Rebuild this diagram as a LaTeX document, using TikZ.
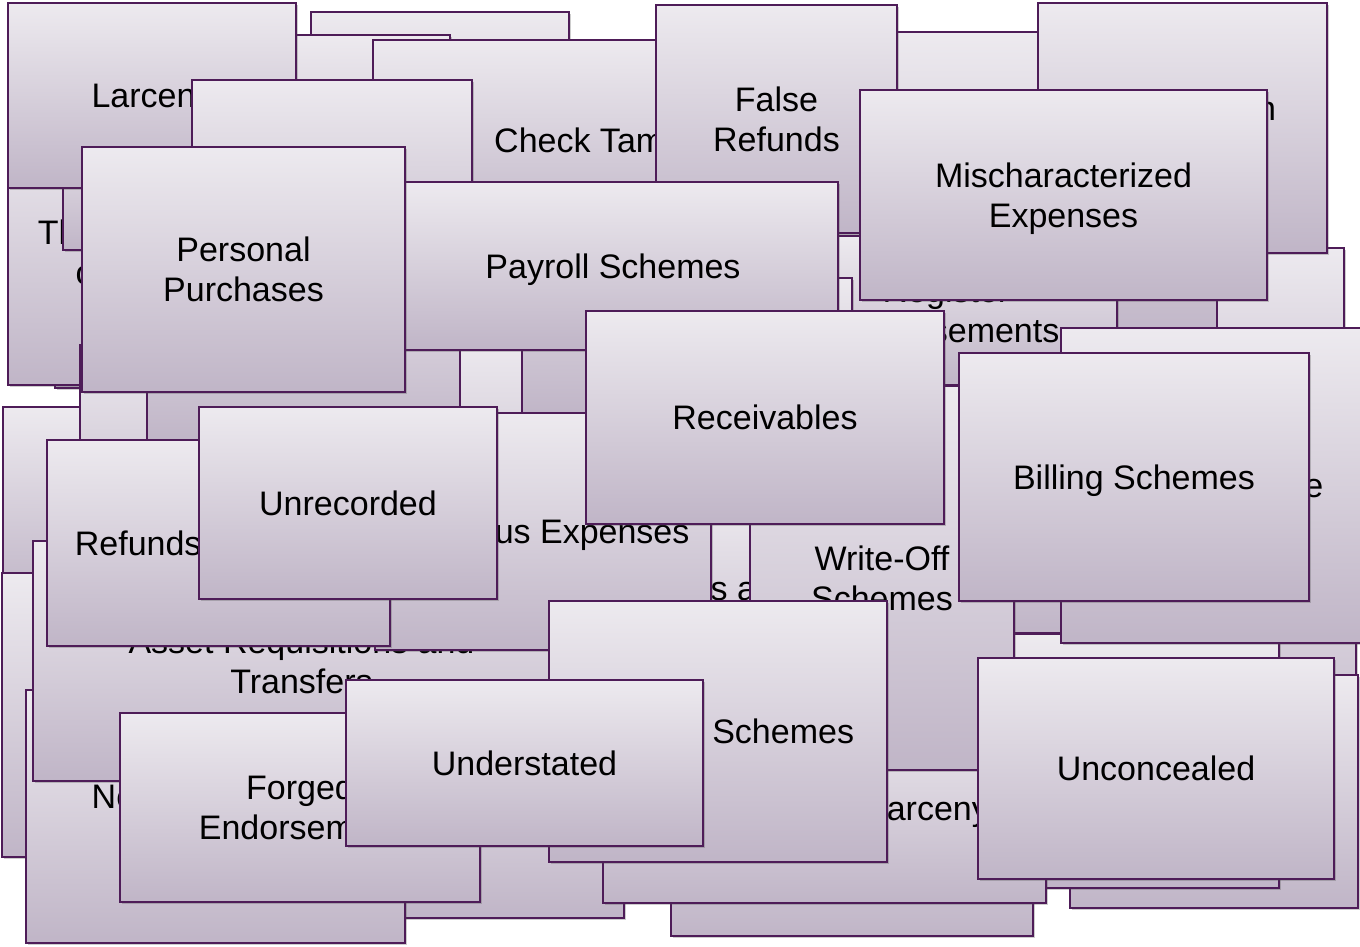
\documentclass[tikz,border=0pt]{standalone}
\usepackage{fontspec}
\setmainfont{Liberation Sans}
\usetikzlibrary{shadows}
\definecolor{cardtop}{RGB}{237,234,239}
\definecolor{cardbot}{RGB}{192,181,199}
\definecolor{cardline}{RGB}{78,28,88}
\newcommand\cardtxt[1]{\rule{0pt}{32.2pt}#1\rule[-7.8pt]{0pt}{7.8pt}}
\tikzset{
  card/.style={draw=cardline, line width=1.8pt, top color=cardtop, bottom color=cardbot,
    inner sep=0pt, align=center, font=\fontsize{34}{40}\selectfont, text=black,
    drop shadow={shadow xshift=1.6pt, shadow yshift=-2pt, opacity=0.28, fill=black!70}}
}
\newcommand\mkcard[6]{%
  \node[card, minimum width={(#4-#2)*1pt}, minimum height={(#5-#3)*1pt}]
    (#1) at ({(#2+#4)/2},{(#3+#5)/2}) {\cardtxt{#6}};}
\begin{document}
\begin{tikzpicture}[x=1pt,y=-1pt]
\useasboundingbox[fill=white] (0,0) rectangle (1360,947);
\mkcard{cb}{311}{12}{569}{230}{}
\mkcard{cc}{230}{35}{450}{230}{}
\mkcard{chk}{373}{40}{880}{240}{Check Tampering}
\mkcard{cv}{55}{300}{250}{388}{}
\mkcard{toc}{8}{119}{272}{385}{Theft of Cash\\on Hand}
\mkcard{cy}{63}{120}{300}{250}{}
\mkcard{lar}{8}{3}{296}{188}{Larceny}
\mkcard{ce}{192}{80}{472}{300}{}
\mkcard{cg}{700}{32}{1217}{345}{}
\mkcard{reg}{775}{236}{1117}{385}{Register\\Disbursements}
\mkcard{ch}{1217}{248}{1344}{500}{}
\mkcard{com}{1038}{3}{1327}{253}{Commission\\Schemes}
\mkcard{fr}{656}{5}{897}{233}{False\\Refunds}
\mkcard{mis}{860}{90}{1267}{300}{Mischaracterized\\Expenses}
\mkcard{cs3}{3}{407}{150}{600}{}
\mkcard{cs}{700}{278}{852}{450}{}
\mkcard{ct}{80}{345}{300}{560}{}
\mkcard{cu}{147}{230}{480}{440}{}
\mkcard{cw}{460}{340}{700}{560}{}
\mkcard{cx}{522}{200}{800}{415}{}
\mkcard{pay}{388}{182}{838}{350}{Payroll Schemes}
\mkcard{pp}{82}{147}{405}{392}{Personal\\Purchases}
\mkcard{cs2}{2}{573}{200}{857}{}
\mkcard{cr}{300}{700}{624}{918}{}
\mkcard{cq}{671}{720}{1033}{936}{}
\mkcard{cac}{1150}{450}{1356}{800}{}
\mkcard{cn}{1070}{675}{1358}{908}{}
\mkcard{cab}{1000}{420}{1150}{633}{}
\mkcard{cm}{1000}{634}{1279}{888}{}
\mkcard{alt}{1061}{328}{1372}{643}{Altered Payee}
\mkcard{ul}{603}{713}{1046}{903}{Unconcealed Larceny}
\mkcard{fss}{547}{500}{797}{716}{False Sales and\\Shipping}
\mkcard{wo}{750}{386}{1014}{770}{Write-Off\\Schemes}
\mkcard{na}{26}{690}{405}{943}{Non-Accomplice\\Vendor}
\mkcard{ar}{33}{541}{570}{781}{Asset Requisitions and\\Transfers}
\mkcard{fe}{375}{413}{711}{650}{Fictitious Expenses}
\mkcard{rf}{47}{440}{390}{646}{Refunds and Other}
\mkcard{unr}{199}{407}{497}{599}{Unrecorded}
\mkcard{fge}{120}{713}{480}{902}{Forged\\Endorsement}
\mkcard{lap}{549}{601}{887}{862}{Lapping Schemes}
\mkcard{und}{346}{680}{703}{846}{Understated}
\mkcard{rec}{586}{311}{944}{524}{Receivables}
\mkcard{bil}{959}{353}{1309}{601}{Billing Schemes}
\mkcard{unc}{978}{658}{1334}{879}{Unconcealed}
\end{tikzpicture}
\end{document}
